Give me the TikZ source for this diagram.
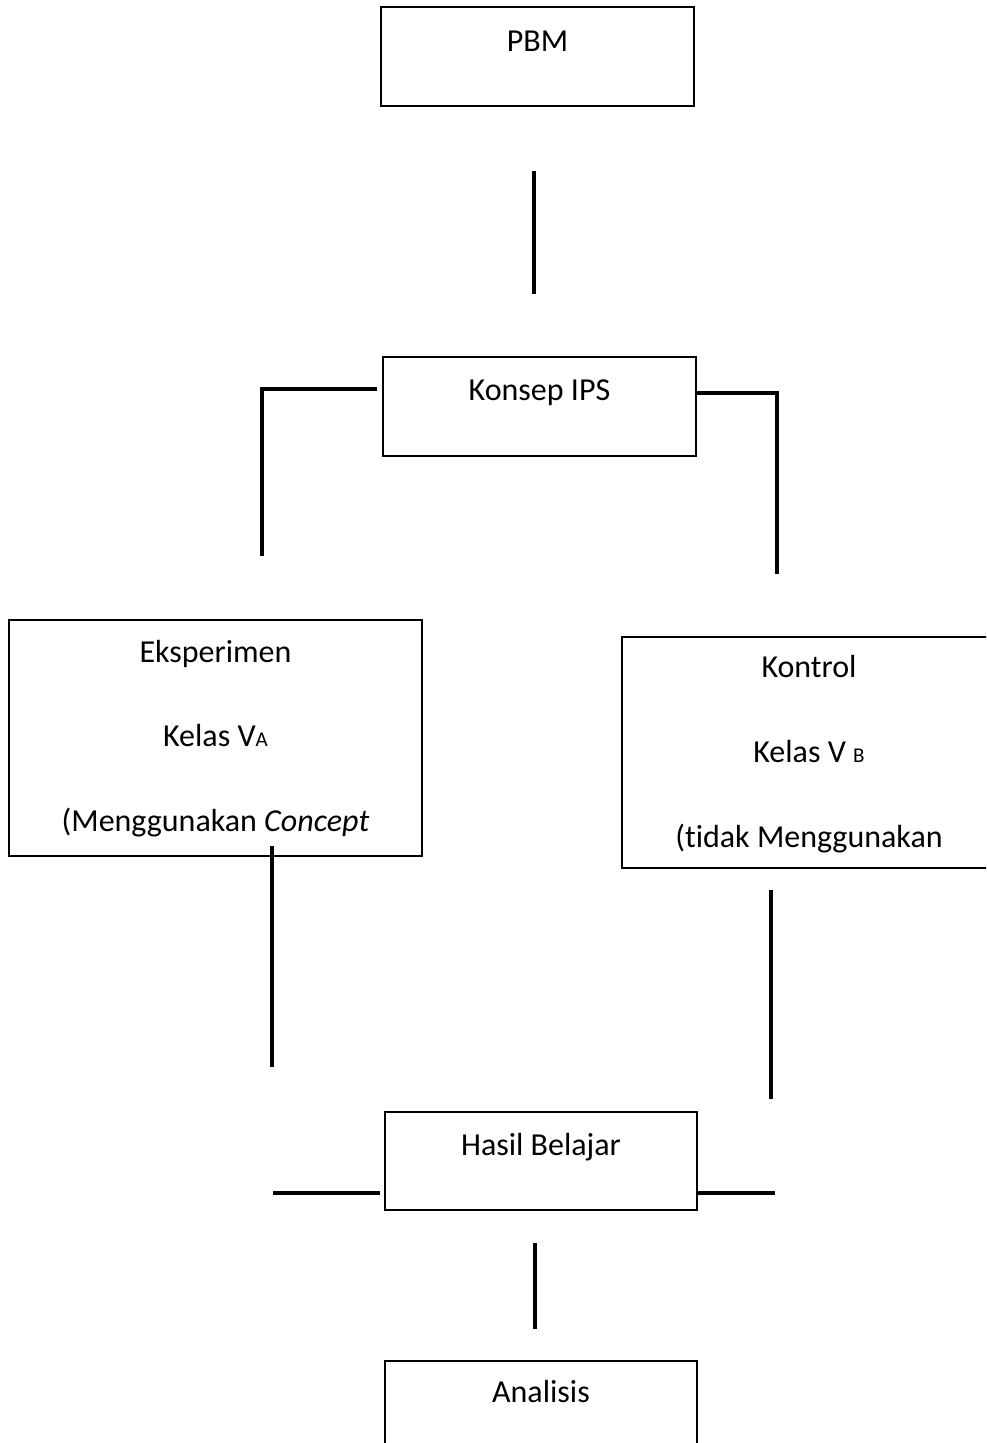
\documentclass[tikz,border=0pt]{standalone}
\usepackage{fontspec}
\setmainfont{Carlito}[Ligatures=NoCommon]
\usetikzlibrary{calc, positioning}

\tikzset{
  box/.style={draw, line width=2pt, inner sep=0pt},
  txt/.style={anchor=base, inner sep=0pt, font=\fontsize{32}{38}\selectfont},
  link/.style={line width=4pt},
}
\newcommand{\kelassub}[1]{{\fontsize{21}{25}\selectfont #1}}

\begin{document}
\begin{tikzpicture}[x=1pt, y=-1pt]
    \useasboundingbox (0,0) rectangle (986,1443);
    \clip (0,0) rectangle (986,1443);

    % Boxes
    \node[box, minimum width=313pt, minimum height=99pt] (pbm) at (537.5,56.5) {};
    \node[box, minimum width=313pt, minimum height=99pt] (konsep) at (539.5,406.5) {};
    \node[box, minimum width=413pt, minimum height=236pt] (eks) at (215.5,738) {};
    \node[box, minimum width=374pt, minimum height=231pt] (kontrol) at (809,752.5) {};
    \node[box, minimum width=312pt, minimum height=98pt] (hasil) at (541,1161) {};
    \node[box, minimum width=312pt, minimum height=98pt] (analisis) at (541,1410) {};

    % Texts
    \node[txt] (pbmtxt) at ($(pbm.north)+(0,45)$) {PBM};
    \node[txt] (konseptxt) at ($(konsep.north)+(0,44)$) {Konsep IPS};
    \node[txt] (eksa) at ($(eks.north)+(0,43)$) {Eksperimen};
    \node[txt] (eksb) at ($(eks.north)+(0,127)$) {Kelas V\kelassub{A}};
    \node[txt] (eksc) at ($(eks.north)+(0,212)$) {(Menggunakan \textit{Concept}};
    \node[txt] (kona) at ($(kontrol.north)+(0,41)$) {Kontrol};
    \node[txt] (konb) at ($(kontrol.north)+(0,126)$) {Kelas V \kelassub{B}};
    \node[txt] (konc) at ($(kontrol.north)+(0,211)$) {(tidak Menggunakan};
    \node[txt] (hasiltxt) at ($(hasil.north)+(0,44)$) {Hasil Belajar};
    \node[txt] (analisistxt) at ($(analisis.north)+(0,42)$) {Analisis};

    % Connectors
    \draw[link] ($(pbm.south)+(-4,64)$) -- ($(konsep.north)+(-6,-62)$);
    \draw[link] ($(konsep.north west)+(-5,33)$) -- ++(-115,0) -- ++(0,167);
    \draw[link] ($(konsep.north east)+(0,37)$) -- ++(80,0) -- ++(0,181);
    \draw[link] ($(eks.south west)+(264,-11)$) -- ++(0,221);
    \draw[link] ($(kontrol.south west)+(150,21)$) -- ++(0,209);
    \draw[link] ($(hasil.south west)+(-4,-18)$) -- ++(-107,0);
    \draw[link] ($(hasil.south east)+(0,-18)$) -- ++(77,0);
    \draw[link] ($(hasil.south)+(-6,32)$) -- ($(analisis.north)+(-6,-31)$);
\end{tikzpicture}
\end{document}
